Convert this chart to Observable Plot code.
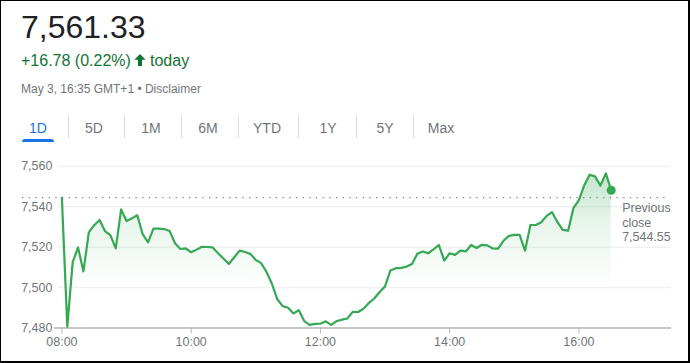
<!DOCTYPE html>
<html>
<head>
<meta charset="utf-8">
<script src="https://cdn.jsdelivr.net/npm/d3@7"></script>
<script src="https://cdn.jsdelivr.net/npm/@observablehq/plot@0.6"></script>
<style>
  html, body { margin: 0; padding: 0; background: #fff; }
  #wrap { position: relative; width: 690px; height: 363px; box-sizing: border-box;
          border-style: solid; border-color: #000; border-width: 1px 2px 2px 1px; overflow: hidden;
          font-family: Arial, "Liberation Sans", sans-serif; }
  .abs { position: absolute; white-space: nowrap; line-height: 1; }
  #price { left: 20px; top: 10px; font-size: 32px; color: #202124; }
  #chg { left: 20px; top: 52px; font-size: 16px; color: #137333; }
  #today { left: 149px; top: 52px; font-size: 16px; color: #137333; }
  #arrow { position: absolute; left: 131px; top: 51px; }
  #date { left: 20px; top: 82px; font-size: 12px; color: #70757a; }
  .tab { position: absolute; top: 120px; font-size: 14px; line-height: 1; color: #70757a; transform: translateX(-50%); white-space: nowrap; }
  .tab.sel { color: #1a73e8; }
  .sep { position: absolute; top: 115px; width: 1px; height: 22px; background: #dadce0; }
  #uline { position: absolute; left: 21px; top: 138px; width: 32px; height: 3px; background: #1a73e8; border-radius: 3px 3px 0 0; }
  #chart { position: absolute; left: -1px; top: 149px; }
  #chart g[aria-label="x-axis tick"] path, #chart g[aria-label="x-axis"] .tick line { stroke: #b5b5b5; }
</style>
</head>
<body>
<div id="wrap">
  <div class="abs" id="price"></div>
  <div class="abs" id="chg"></div>
  <svg id="arrow" width="16" height="16" viewBox="0 0 24 24"><path fill="#137333" d="M12 3 L20.5 11.5 L15 11.5 L15 21 L9 21 L9 11.5 L3.5 11.5 Z"/></svg>
  <div class="abs" id="today">today</div>
  <div class="abs" id="date"></div>
  <div id="tabs"></div>
  <div id="uline"></div>
  <div id="chart"></div>
</div>
<script>
// ---- header texts ----
const currentPrice = "7,561.33";
const changeText = "+16.78 (0.22%)";
const dateText = "May 3, 16:35 GMT+1 • Disclaimer";
const tabLabels = ["1D", "5D", "1M", "6M", "YTD", "1Y", "5Y", "Max"];
const tabCenters = [37, 93, 150, 207, 266, 327, 384, 440];
const sepXs = [67, 123, 180, 237, 297, 355, 412];

// ---- series ----
const times = [
  "08:00","08:05","08:10","08:15","08:20","08:25","08:30","08:35","08:40","08:45","08:50","08:55",
  "09:00","09:05","09:10","09:15","09:20","09:25","09:30","09:35","09:40","09:45","09:50","09:55",
  "10:00","10:05","10:10","10:15","10:20","10:25","10:30","10:35","10:40","10:45","10:50","10:55",
  "11:00","11:05","11:10","11:15","11:20","11:25","11:30","11:35","11:40","11:45","11:50","11:55",
  "12:00","12:05","12:10","12:15","12:20","12:25","12:30","12:35","12:40","12:45","12:50","12:55",
  "13:00","13:05","13:10","13:15","13:20","13:25","13:30","13:35","13:40","13:45","13:50","13:55",
  "14:00","14:05","14:10","14:15","14:20","14:25","14:30","14:35","14:40","14:45","14:50","14:55",
  "15:00","15:05","15:10","15:15","15:20","15:25","15:30","15:35","15:40","15:45","15:50","15:55",
  "16:00","16:05","16:10","16:15","16:20","16:25","16:30"
];
const prices = [
  7544.5, 7480.6, 7512.6, 7519.9, 7508.0, 7527.3, 7530.9, 7533.5, 7528.0, 7526.0, 7519.4, 7538.7,
  7533.0, 7534.3, 7535.8, 7526.5, 7522.4, 7529.2, 7529.2, 7529.0, 7528.0, 7522.0, 7519.1, 7519.4,
  7517.5, 7518.8, 7520.2, 7520.1, 7519.9, 7517.0, 7514.4, 7511.7, 7515.0, 7518.3, 7517.6, 7516.7,
  7513.7, 7512.1, 7507.7, 7501.9, 7494.2, 7490.8, 7490.0, 7487.2, 7488.8, 7483.4, 7481.5, 7482.0,
  7482.1, 7483.3, 7481.5, 7483.4, 7484.1, 7484.7, 7488.0, 7487.9, 7489.5, 7492.4, 7494.6, 7497.8,
  7500.6, 7508.5, 7509.6, 7509.8, 7510.4, 7511.7, 7516.7, 7517.9, 7517.0, 7518.9, 7521.1, 7513.4,
  7517.0, 7516.2, 7518.3, 7517.9, 7521.1, 7519.6, 7521.2, 7520.9, 7519.4, 7519.3, 7523.2, 7525.6,
  7526.1, 7526.1, 7518.3, 7531.0, 7531.0, 7532.4, 7535.5, 7537.4, 7532.5, 7528.6, 7528.2, 7539.5,
  7543.3, 7550.7, 7555.9, 7555.1, 7550.5, 7556.6, 7548.2
];
const previousClose = 7544.55;
const yTicks = [7480, 7500, 7520, 7540, 7560];
const xTickLabels = ["08:00", "10:00", "12:00", "14:00", "16:00"];
const xDomainLabels = ["07:53", "17:26"];

// ---- header ----
document.getElementById("price").textContent = currentPrice;
document.getElementById("chg").textContent = changeText;
document.getElementById("date").textContent = dateText;
const tabs = document.getElementById("tabs");
tabLabels.forEach((t, i) => {
  const s = document.createElement("span");
  s.className = "tab" + (i === 0 ? " sel" : "");
  s.style.left = tabCenters[i] + "px";
  s.textContent = t;
  tabs.appendChild(s);
});
sepXs.forEach(x => {
  const d = document.createElement("div");
  d.className = "sep";
  d.style.left = x + "px";
  tabs.appendChild(d);
});

// ---- chart ----
const parse = d3.utcParse("%H:%M");
const data = times.map((t, i) => ({t: parse(t), v: prices[i]}));
const last = data[data.length - 1];
const green = "#34a853";
const fontFam = 'Arial, "Liberation Sans", sans-serif';

const chart = Plot.plot({
  width: 690,
  height: 211,
  marginLeft: 54,
  marginRight: 17,
  marginTop: 16,
  marginBottom: 33,
  style: {fontFamily: fontFam, fontSize: "12.5px", color: "#70757a", background: "transparent", overflow: "visible"},
  x: {type: "utc", domain: xDomainLabels.map(parse), ticks: xTickLabels.map(parse),
      tickFormat: d3.utcFormat("%H:%M"), tickSize: 6, tickPadding: 3, label: null},
  y: {domain: [yTicks[0], yTicks[yTicks.length - 1]], ticks: yTicks, tickFormat: d3.format(","),
      tickSize: 0, tickPadding: 2, label: null},
  marks: [
    Plot.ruleY(yTicks.slice(1), {stroke: "#f1f1f1", strokeWidth: 1.5, insetLeft: 4}),
    Plot.areaY(data, {x: "t", y1: () => yTicks[0], y2: "v", fill: "url(#areaGrad)"}),
    Plot.ruleY([previousClose], {stroke: "#80868b", strokeWidth: 1.3, strokeDasharray: "1.3,5.4", insetLeft: -32, insetRight: 2}),
    Plot.ruleY([yTicks[0]], {stroke: "#b5b5b5", strokeWidth: 1.6}),
    Plot.line(data, {x: "t", y: "v", stroke: green, strokeWidth: 2.2, curve: "linear"}),
    Plot.dot([last], {x: "t", y: "v", r: 4.5, fill: green, stroke: null}),
    Plot.text([previousClose], {x: () => last.t, y: d => d,
      text: d => "Previous\nclose\n" + d3.format(",.2f")(d),
      textAnchor: "start", lineAnchor: "top", lineHeight: 1.18, dx: 11, dy: 4,
      fill: "#70757a", fontSize: 12.5})
  ]
});

// gradient definition for the area fill
const defs = d3.select(chart).insert("defs", ":first-child");
const grad = defs.append("linearGradient").attr("id", "areaGrad")
  .attr("x1", 0).attr("y1", 0).attr("x2", 0).attr("y2", 1);
grad.append("stop").attr("offset", "0").attr("stop-color", green).attr("stop-opacity", 0.3);
grad.append("stop").attr("offset", "0.3").attr("stop-color", green).attr("stop-opacity", 0.12);
grad.append("stop").attr("offset", "0.75").attr("stop-color", green).attr("stop-opacity", 0);

document.getElementById("chart").appendChild(chart);
</script>
</body>
</html>
